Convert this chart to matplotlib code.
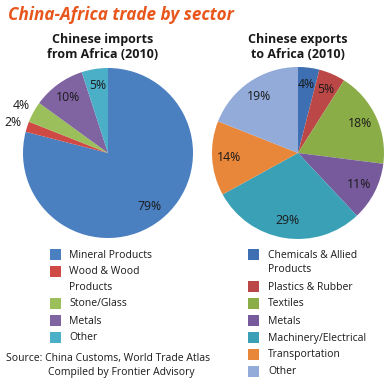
import matplotlib
matplotlib.use("Agg")
import matplotlib.pyplot as plt
from matplotlib.patches import Rectangle
import numpy as np

W, H = 388, 381

imp_labels = ["Mineral Products", "Wood & Wood\nProducts", "Stone/Glass", "Metals", "Other"]
imp_values = [79, 2, 4, 10, 5]
imp_colors = ["#4a7fc0", "#d04a45", "#9bbf5a", "#8064a2", "#4bafc8"]

exp_labels = ["Chemicals & Allied\nProducts", "Plastics & Rubber", "Textiles", "Metals",
              "Machinery/Electrical", "Transportation", "Other"]
exp_values = [4, 5, 18, 11, 29, 14, 19]
exp_colors = ["#3f6fb3", "#bb4846", "#8aad47", "#775a9c", "#3aa0b6", "#e8863a", "#93abd8"]

FONT = "Open Sans"
plt.rcParams['font.family'] = [FONT, 'DejaVu Sans']

fig = plt.figure(figsize=(W / 100, H / 100), dpi=100)
fig.patch.set_facecolor("white")

def fx(x):
    return x / W

def fy(y):
    return 1 - y / H

def draw_pie(cx, cy, r, values, colors, outside_idx):
    ax = fig.add_axes([fx(cx - r), fy(cy + r), 2 * r / W, 2 * r / H])
    wedges, _ = ax.pie(values, colors=colors, startangle=90, counterclock=False,
                       radius=1, wedgeprops=dict(linewidth=0))
    ax.set_xlim(-1, 1)
    ax.set_ylim(-1, 1)
    ax.set_aspect("auto")
    ax.axis("off")
    for i, (w, v) in enumerate(zip(wedges, values)):
        mid = np.deg2rad((w.theta1 + w.theta2) / 2)
        d = 1.17 if i in outside_idx else 0.8
        ax.text(d * np.cos(mid), d * np.sin(mid), f"{v}%", ha="center", va="center",
                fontsize=8.8, color="#1a1a1a", clip_on=False)
    return ax

draw_pie(108, 153, 85, imp_values, imp_colors, outside_idx={1, 2})
draw_pie(298, 153, 86, exp_values, exp_colors, outside_idx=set())

fig.text(fx(8), fy(15), "China-Africa trade by sector", fontsize=12.3, fontweight="bold",
         fontstyle="italic", color="#e8561c", ha="left", va="center")

for x, lines in [(103, ["Chinese imports", "from Africa (2010)"]),
                 (298, ["Chinese exports", "to Africa (2010)"])]:
    for j, t in enumerate(lines):
        fig.text(fx(x), fy(39 + 16 * j), t, fontsize=9, fontweight="bold",
                 color="#1a1a1a", ha="center", va="center")

def draw_legend(sq_x, txt_x, y0, labels, colors):
    y = y0
    for lab, col in zip(labels, colors):
        fig.patches.append(Rectangle((fx(sq_x), fy(y + 5)), 11 / W, 11 / H,
                                     transform=fig.transFigure, facecolor=col,
                                     edgecolor="none"))
        nlines = lab.count("\n") + 1
        for k, part in enumerate(lab.split("\n")):
            fig.text(fx(txt_x), fy(y + 15 * k), part, fontsize=7.5, color="#1a1a1a",
                     ha="left", va="center")
        y += 17 + 15 * (nlines - 1)

draw_legend(50, 69, 255, imp_labels, imp_colors)
draw_legend(248, 268, 255, exp_labels, exp_colors)

fig.text(fx(108), fy(358), "Source: China Customs, World Trade Atlas", fontsize=7.5,
         color="#1a1a1a", ha="center", va="center")
fig.text(fx(121), fy(373), "Compiled by Frontier Advisory", fontsize=7.5,
         color="#1a1a1a", ha="center", va="center")

fig.savefig("out.png", dpi=100, facecolor="white")
